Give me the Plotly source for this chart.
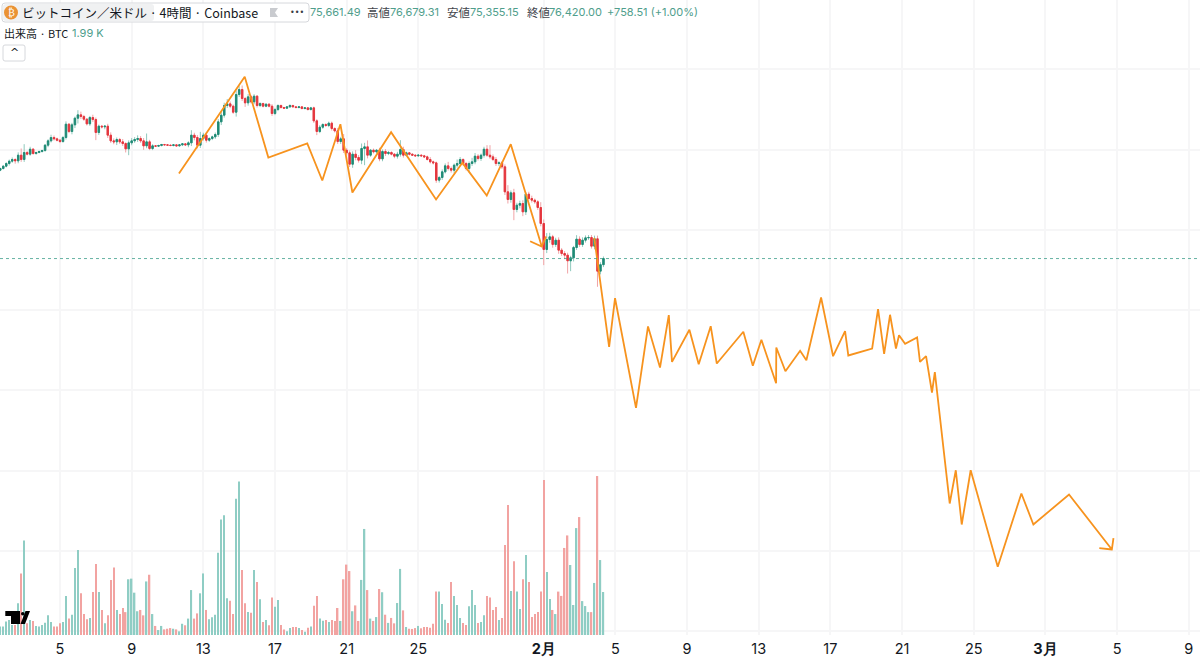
import pandas as pd
import plotly.graph_objects as go

# 4h candles, first one on Jan 1 2026 16:00
first_candle = pd.Timestamp('2026-01-01 16:00')
first_open = 87427

closes = [
    87635, 87925, 88257, 88548, 88755, 88589, 89295, 88755, 89627, 89419,
    90041, 89502, 89627, 89751, 89875, 90540, 91079, 91494, 91328, 91162,
    90996, 91494, 93154, 92241, 93071, 93901, 94316, 94108, 93776, 93196,
    93984, 93735, 92116, 92905, 92822, 92905, 91785, 91079, 90955, 91245,
    90955, 90747, 90083, 90830, 91079, 91245, 91370, 91079, 90457, 90955,
    90125, 90457, 90415, 90498, 90623, 90581, 90540, 90498, 90581, 90457,
    90581, 90706, 90581, 90830, 91785, 91494, 90540, 91370, 91785, 91162,
    91370, 91577, 91868, 93445, 94274, 95478, 95684, 95395, 94648, 96848,
    97470, 96350, 95810, 96557, 95935, 96640, 95478, 95727, 95395, 95644,
    95395, 94482, 94980, 95478, 95229, 95146, 95312, 95478, 95312, 95229,
    95312, 95104, 95187, 94980, 95187, 93569, 92241, 92780, 93113, 92988,
    93277, 92614, 92324, 90996, 91328, 89917, 89585, 88174, 89419, 89004,
    88672, 90125, 90332, 89295, 89917, 89710, 89917, 88838, 89751, 89502,
    89627, 89419, 89170, 89419, 90000, 89295, 89585, 89419, 89295, 89212,
    89295, 89212, 89087, 88755, 88465, 88340, 86182, 86514, 87220, 87966,
    87634, 87427, 88050, 88257, 88755, 88257, 87634, 88257, 88465, 89170,
    88880, 89295, 90041, 89295, 89087, 88755, 88257, 88340, 87842, 84730,
    83775, 84605, 82530, 83070, 83277, 82240, 84439, 83900, 83692, 83485,
    82779, 80787, 77550, 78795, 79127, 78173, 78712, 77467, 77052, 76845,
    76139, 76513, 77799, 78836, 78173, 78712, 79002, 79044, 77965, 78878,
    74853, 75661, 76420,
]

wick_up = [
    100, 120, 150, 200, 250, 150, 350, 830, 1040, 200,
    300, 150, 100, 120, 100, 150, 200, 350, 250, 150,
    150, 200, 350, 150, 250, 200, 580, 400, 200, 150,
    200, 350, 250, 200, 150, 150, 300, 350, 300, 250,
    200, 350, 150, 300, 350, 300, 400, 300, 350, 1040,
    250, 200, 100, 100, 80, 80, 80, 100, 100, 80,
    100, 100, 100, 200, 620, 300, 300, 830, 300, 350,
    150, 150, 250, 350, 400, 350, 600, 300, 200, 500,
    415, 500, 200, 350, 200, 250, 150, 150, 100, 100,
    120, 250, 200, 150, 120, 80, 100, 150, 100, 100,
    100, 100, 80, 100, 120, 150, 200, 250, 150, 150,
    200, 200, 150, 350, 250, 600, 250, 300, 350, 500,
    300, 620, 500, 800, 150, 200, 150, 300, 250, 300,
    200, 150, 150, 300, 1160, 350, 150, 100, 100, 100,
    120, 100, 120, 150, 300, 150, 150, 200, 300, 300,
    500, 250, 200, 500, 300, 150, 200, 250, 500, 400,
    250, 200, 300, 500, 1245, 300, 300, 200, 200, 300,
    830, 300, 500, 300, 350, 400, 250, 300, 350, 200,
    200, 660, 500, 800, 500, 250, 300, 350, 250, 300,
    300, 250, 200, 500, 350, 350, 300, 300, 300, 400,
    400, 300, 259,
]

wick_down = [
    120, 120, 150, 250, 200, 350, 300, 290, 300, 150,
    200, 150, 150, 100, 120, 150, 250, 200, 200, 150,
    200, 150, 250, 200, 350, 400, 660, 300, 200, 200,
    250, 300, 950, 300, 200, 300, 350, 250, 300, 400,
    250, 300, 450, 790, 300, 250, 300, 250, 500, 300,
    200, 200, 100, 80, 100, 80, 80, 80, 100, 100,
    100, 150, 150, 300, 400, 350, 400, 350, 250, 300,
    200, 200, 250, 300, 400, 300, 300, 250, 200, 550,
    300, 300, 500, 350, 200, 300, 250, 200, 150, 120,
    150, 300, 200, 200, 120, 100, 100, 120, 100, 100,
    100, 100, 100, 120, 120, 250, 450, 200, 200, 150,
    200, 250, 200, 300, 300, 350, 300, 350, 450, 350,
    300, 500, 2075, 400, 200, 200, 200, 300, 300, 300,
    200, 150, 250, 300, 300, 300, 150, 150, 100, 100,
    100, 120, 150, 120, 200, 200, 330, 300, 300, 200,
    250, 300, 400, 300, 300, 250, 250, 500, 300, 300,
    250, 300, 300, 200, 250, 200, 300, 300, 250, 400,
    500, 400, 1330, 350, 400, 540, 400, 250, 300, 250,
    300, 350, 1950, 450, 400, 400, 300, 450, 300, 500,
    1580, 1290, 450, 300, 300, 300, 300, 250, 300, 400,
    1950, 400, 306,
]

# volume in thousands of BTC
volumes = [
    0.39, 0.39, 0.62, 0.69, 0.46, 0.46, 1.47, 2.85, 4.37, 0.54,
    0.69, 0.65, 0.42, 0.39, 0.46, 0.57, 0.91, 0.60, 0.39, 0.39,
    0.54, 0.60, 1.81, 0.76, 0.94, 3.10, 3.94, 1.93, 0.97, 0.73,
    0.79, 1.99, 3.29, 1.99, 1.16, 0.54, 0.91, 2.55, 3.13, 1.16,
    0.97, 1.25, 1.06, 2.58, 2.61, 1.96, 1.10, 1.16, 0.91, 2.48,
    2.79, 0.97, 0.42, 0.23, 0.42, 0.26, 0.29, 0.32, 0.29, 0.26,
    0.17, 0.52, 0.45, 0.76, 2.08, 0.76, 1.00, 1.93, 2.85, 1.16,
    0.73, 0.82, 0.94, 3.81, 5.35, 5.55, 1.70, 1.59, 0.97, 6.31,
    7.11, 3.01, 1.47, 1.06, 1.03, 3.01, 2.45, 1.65, 0.60, 0.69,
    0.45, 1.74, 1.31, 1.62, 0.46, 0.26, 0.17, 0.32, 0.37, 0.37,
    0.32, 0.23, 0.15, 0.34, 0.39, 1.36, 1.81, 0.76, 0.66, 0.69,
    0.60, 0.69, 0.65, 1.25, 0.65, 2.58, 3.26, 2.96, 1.10, 1.37,
    0.65, 2.55, 4.91, 2.08, 0.76, 0.65, 0.83, 2.13, 1.98, 0.94,
    0.56, 0.79, 0.54, 1.48, 3.06, 1.14, 0.37, 0.29, 0.28, 0.32,
    0.42, 0.31, 0.37, 0.37, 0.34, 0.52, 2.01, 2.01, 1.44, 0.71,
    0.56, 2.45, 1.81, 1.39, 0.79, 0.56, 0.46, 1.33, 2.08, 1.39,
    0.56, 0.60, 0.91, 1.81, 1.74, 1.16, 1.30, 0.69, 0.79, 4.17,
    6.02, 2.04, 3.41, 2.01, 1.20, 2.58, 3.70, 2.45, 0.83, 0.97,
    1.06, 2.01, 7.18, 2.92, 1.67, 1.16, 0.97, 2.01, 1.81, 4.03,
    4.61, 3.24, 1.39, 4.95, 5.46, 1.57, 1.34, 1.06, 1.06, 2.41,
    7.36, 3.47, 1.99,
]

volume_dirs = (
    'gggggrgrgr' 'grggggggrr' 'rggrgggrrr' 'grrgrgrrrg' 'rrrggggrrg'
    'rgrggrrrgr' 'ggrggrrggr' 'gggggggrrg' 'grrgrgrgrg' 'rrggrrggrr'
    'grgrgrrggr' 'grrrgrrrgr' 'rggrgrgrgr' 'grrggrgrrr' 'grrrrrrggg'
    'rrgggrrggg' 'rggrrrrgrr' 'rgrggrgrrr' 'rrrggrgrrr' 'rgggrgggrg'
    'rgg'
)

# hand drawn zigzag, days since Jan 1 2026 and price
forecast1_days = [
    10.64, 14.31, 15.63, 17.80, 18.64, 19.65, 20.32, 22.48, 24.99, 26.46,
    27.82, 29.16, 30.89, 30.24, 30.89, 31.13,
]
forecast1_prices = [
    87000, 99050, 89000, 90750, 86140, 93150, 84650, 92150, 83770, 88340,
    84270, 90660, 77920, 78580, 77920, 79170,
]
forecast2_days = [
    33.82, 34.65, 34.98, 36.15, 36.82, 37.49, 37.98, 38.16, 39.13, 39.65,
    40.32, 40.66, 42.14, 42.67, 43.15, 43.97, 43.98, 44.49, 45.31, 45.66,
    46.48, 47.15, 47.82, 48.00, 49.33, 49.66, 50.00, 50.33, 50.66, 50.83,
    51.17, 51.84, 52.00, 52.34, 52.67, 52.83, 53.66, 54.00, 54.33, 54.83,
    56.34, 57.66, 58.33, 60.32, 62.71, 62.01, 62.71, 62.80,
]
forecast2_prices = [
    79000, 65430, 71480, 57830, 67960, 62850, 69370, 63560, 67550, 63260,
    68000, 63350, 67300, 63060, 66300, 60900, 65340, 62390, 64930, 63760,
    71570, 64260, 67370, 64350, 65220, 70110, 64560, 69420, 65220, 66870,
    65800, 66590, 63560, 64260, 59740, 62270, 45920, 50060, 43300, 50060,
    38030, 47160, 43300, 47040, 40190, 40350, 40190, 41600,
]

tick_dates = [
    '2026-01-05', '2026-01-09', '2026-01-13', '2026-01-17', '2026-01-21', '2026-01-25',
    '2026-02-01', '2026-02-05', '2026-02-09', '2026-02-13', '2026-02-17', '2026-02-21',
    '2026-02-25', '2026-03-01', '2026-03-05', '2026-03-09',
]
tick_labels = [
    '5', '9', '13', '17', '21', '25', '<b>2月</b>', '5', '9', '13', '17', '21', '25',
    '<b>3月</b>', '5', '9',
]
price_grid = [30000, 40000, 50000, 60000, 70000, 80000, 90000, 100000]
last_close = 76420

GREEN = '#1f8a75'
RED = '#e4343c'
GREEN_PALE = '#8fc9bd'
RED_PALE = '#f1a3a6'
VOL_GREEN = '#8fcdc4'
VOL_RED = '#f2a3a1'
ORANGE = '#f7931e'
GRID = '#f6f6f7'
TEXT = '#131722'
TEAL_TEXT = '#4f9e8c'

W, H, PLOT_H = 1200, 671, 635


def to_dates(days):
    return [pd.Timestamp('2026-01-01') + pd.Timedelta(days=d) for d in days]


def px(x):
    return x / W


def py(y):
    return 1 - y / PLOT_H


def round_box(x0, y0, x1, y1, r):
    return (
        f'M{px(x0 + r)},{py(y0)} L{px(x1 - r)},{py(y0)} Q{px(x1)},{py(y0)} {px(x1)},{py(y0 + r)} '
        f'L{px(x1)},{py(y1 - r)} Q{px(x1)},{py(y1)} {px(x1 - r)},{py(y1)} '
        f'L{px(x0 + r)},{py(y1)} Q{px(x0)},{py(y1)} {px(x0)},{py(y1 - r)} '
        f'L{px(x0)},{py(y0 + r)} Q{px(x0)},{py(y0)} {px(x0 + r)},{py(y0)} Z'
    )


def poly(points):
    cmds = [f'{"M" if i == 0 else "L"}{px(x)},{py(y)}' for i, (x, y) in enumerate(points)]
    return ' '.join(cmds) + ' Z'


df = pd.DataFrame({'close': closes, 'up': wick_up, 'down': wick_down, 'vol': volumes})
df['time'] = [first_candle + pd.Timedelta(hours=4 * i) for i in range(len(df))]
df['open'] = df['close'].shift(1).fillna(first_open)
df['top'] = df[['open', 'close']].max(axis=1)
df['bottom'] = df[['open', 'close']].min(axis=1)
df['high'] = df['top'] + df['up']
df['low'] = df['bottom'] - df['down']

fig = go.Figure()

fig.add_trace(go.Bar(
    x=df['time'], y=df['vol'], yaxis='y',
    marker=dict(color=[VOL_GREEN if c == 'g' else VOL_RED for c in volume_dirs], line_width=0),
    width=6800000,
))

# wicks first in a pale colour, then the bodies on top
fig.add_trace(go.Candlestick(
    x=df['time'], open=df['open'], high=df['high'], low=df['low'], close=df['close'], yaxis='y2',
    increasing=dict(line=dict(color=GREEN_PALE, width=1), fillcolor=GREEN_PALE),
    decreasing=dict(line=dict(color=RED_PALE, width=1), fillcolor=RED_PALE),
))
fig.add_trace(go.Candlestick(
    x=df['time'], open=df['open'], high=df['top'], low=df['bottom'], close=df['close'], yaxis='y2',
    increasing=dict(line=dict(color=GREEN, width=0.9), fillcolor=GREEN),
    decreasing=dict(line=dict(color=RED, width=0.9), fillcolor=RED),
))

for days, prices in [(forecast1_days, forecast1_prices), (forecast2_days, forecast2_prices)]:
    fig.add_trace(go.Scatter(
        x=to_dates(days), y=prices, yaxis='y2', mode='lines',
        line=dict(color=ORANGE, width=1.8),
    ))

shapes = [
    dict(type='line', xref='paper', x0=0, x1=1, yref='y2', y0=last_close, y1=last_close,
         line=dict(color='#3f9e8c', width=0.8, dash='dot')),
    # legend box
    dict(type='path', xref='paper', yref='paper', path=round_box(2, 3, 309, 22, 3),
         fillcolor='white', line=dict(color='#d6d8dc', width=1)),
    dict(type='path', xref='paper', yref='paper', path=round_box(3, 4, 154, 21, 3),
         fillcolor='#f0f1f2', line_width=0),
    dict(type='circle', xref='paper', yref='paper', x0=px(4), x1=px(18), y0=py(19.5), y1=py(5.5),
         fillcolor='#ea9234', line_width=0),
    dict(type='path', xref='paper', yref='paper',
         path=poly([(270, 8), (278, 8), (275, 12.5), (278, 17), (270, 17)]),
         fillcolor='#c9cbcf', line_width=0),
    # collapse button
    dict(type='path', xref='paper', yref='paper', path=round_box(3, 45, 25, 61, 2),
         fillcolor='white', line=dict(color='#d6d8dc', width=1)),
    # logo
    dict(type='path', xref='paper', yref='paper',
         path=poly([(5.3, 611), (20, 611), (20, 624), (11, 624), (11, 616), (5.3, 616)]),
         fillcolor='black', line_width=0),
    dict(type='circle', xref='paper', yref='paper', x0=px(21), x1=px(24.5), y0=py(615.5), y1=py(612),
         fillcolor='black', line_width=0),
    dict(type='path', xref='paper', yref='paper',
         path=poly([(25.5, 611), (30, 611), (25, 624), (20.5, 624)]),
         fillcolor='black', line_width=0),
]

JP = 'Noto Sans CJK JP'
NUM = 'Inter'


def label(x, y, text, color=TEXT, size=11.5, family=JP, anchor='left'):
    return dict(
        xref='paper', yref='paper', x=px(x), y=py(y), text=text, showarrow=False,
        xanchor=anchor, yanchor='middle', font=dict(family=family, size=size, color=color),
        xshift=0, yshift=0, borderpad=0, borderwidth=0,
    )


annotations = [
    label(11, 12.5, '₿', color='white', size=10, family='DejaVu Sans', anchor='center'),
    label(22, 12.5, 'ビットコイン／米ドル · 4時間 · Coinbase', size=12.5),
    label(297, 12, '•••', color='#3a3d44', size=8, family='DejaVu Sans', anchor='center'),
    label(310, 12.5, '75,661.49', color=TEAL_TEXT, size=11, family=NUM),
    label(367, 12.5, '高値', color='#43464d', size=11.5),
    label(390, 12.5, '76,679.31', color=TEAL_TEXT, size=11, family=NUM),
    label(447, 12.5, '安値', color='#43464d', size=11.5),
    label(470, 12.5, '75,355.15', color=TEAL_TEXT, size=11, family=NUM),
    label(527, 12.5, '終値', color='#43464d', size=11.5),
    label(549, 12.5, '76,420.00', color=TEAL_TEXT, size=11, family=NUM),
    label(607, 12.5, '+758.51 (+1.00%)', color=TEAL_TEXT, size=11, family=NUM),
    label(4, 32.5, '出来高 · BTC', size=11),
    label(72, 33, '1.99 K', color=TEAL_TEXT, size=11, family=NUM),
    label(14, 52.5, '^', size=11, family='DejaVu Sans', anchor='center'),
]

fig.update_layout(
    width=W, height=H,
    margin=dict(l=0, r=0, t=0, b=H - PLOT_H),
    paper_bgcolor='white', plot_bgcolor='white',
    showlegend=False,
    barmode='overlay',
    shapes=shapes,
    annotations=annotations,
    xaxis=dict(
        type='date',
        range=to_dates([0.651, 67.63]),
        rangeslider=dict(visible=False),
        tickmode='array', tickvals=tick_dates, ticktext=tick_labels,
        tickfont=dict(family=NUM, size=14.5, color=TEXT),
        ticklabelstandoff=3,
        showgrid=True, gridcolor=GRID, gridwidth=1.5,
        zeroline=False, showline=False, ticks='',
    ),
    yaxis=dict(range=[0, 29.4], showgrid=False, showticklabels=False, zeroline=False, ticks=''),
    yaxis2=dict(
        range=[29540, 108620], overlaying='y', side='right',
        tickmode='array', tickvals=price_grid, showticklabels=False,
        showgrid=True, gridcolor=GRID, gridwidth=1.5, zeroline=False, ticks='',
    ),
)

fig.write_html('out.html', post_script="document.body.style.margin='0';", config=dict(displayModeBar=False))
